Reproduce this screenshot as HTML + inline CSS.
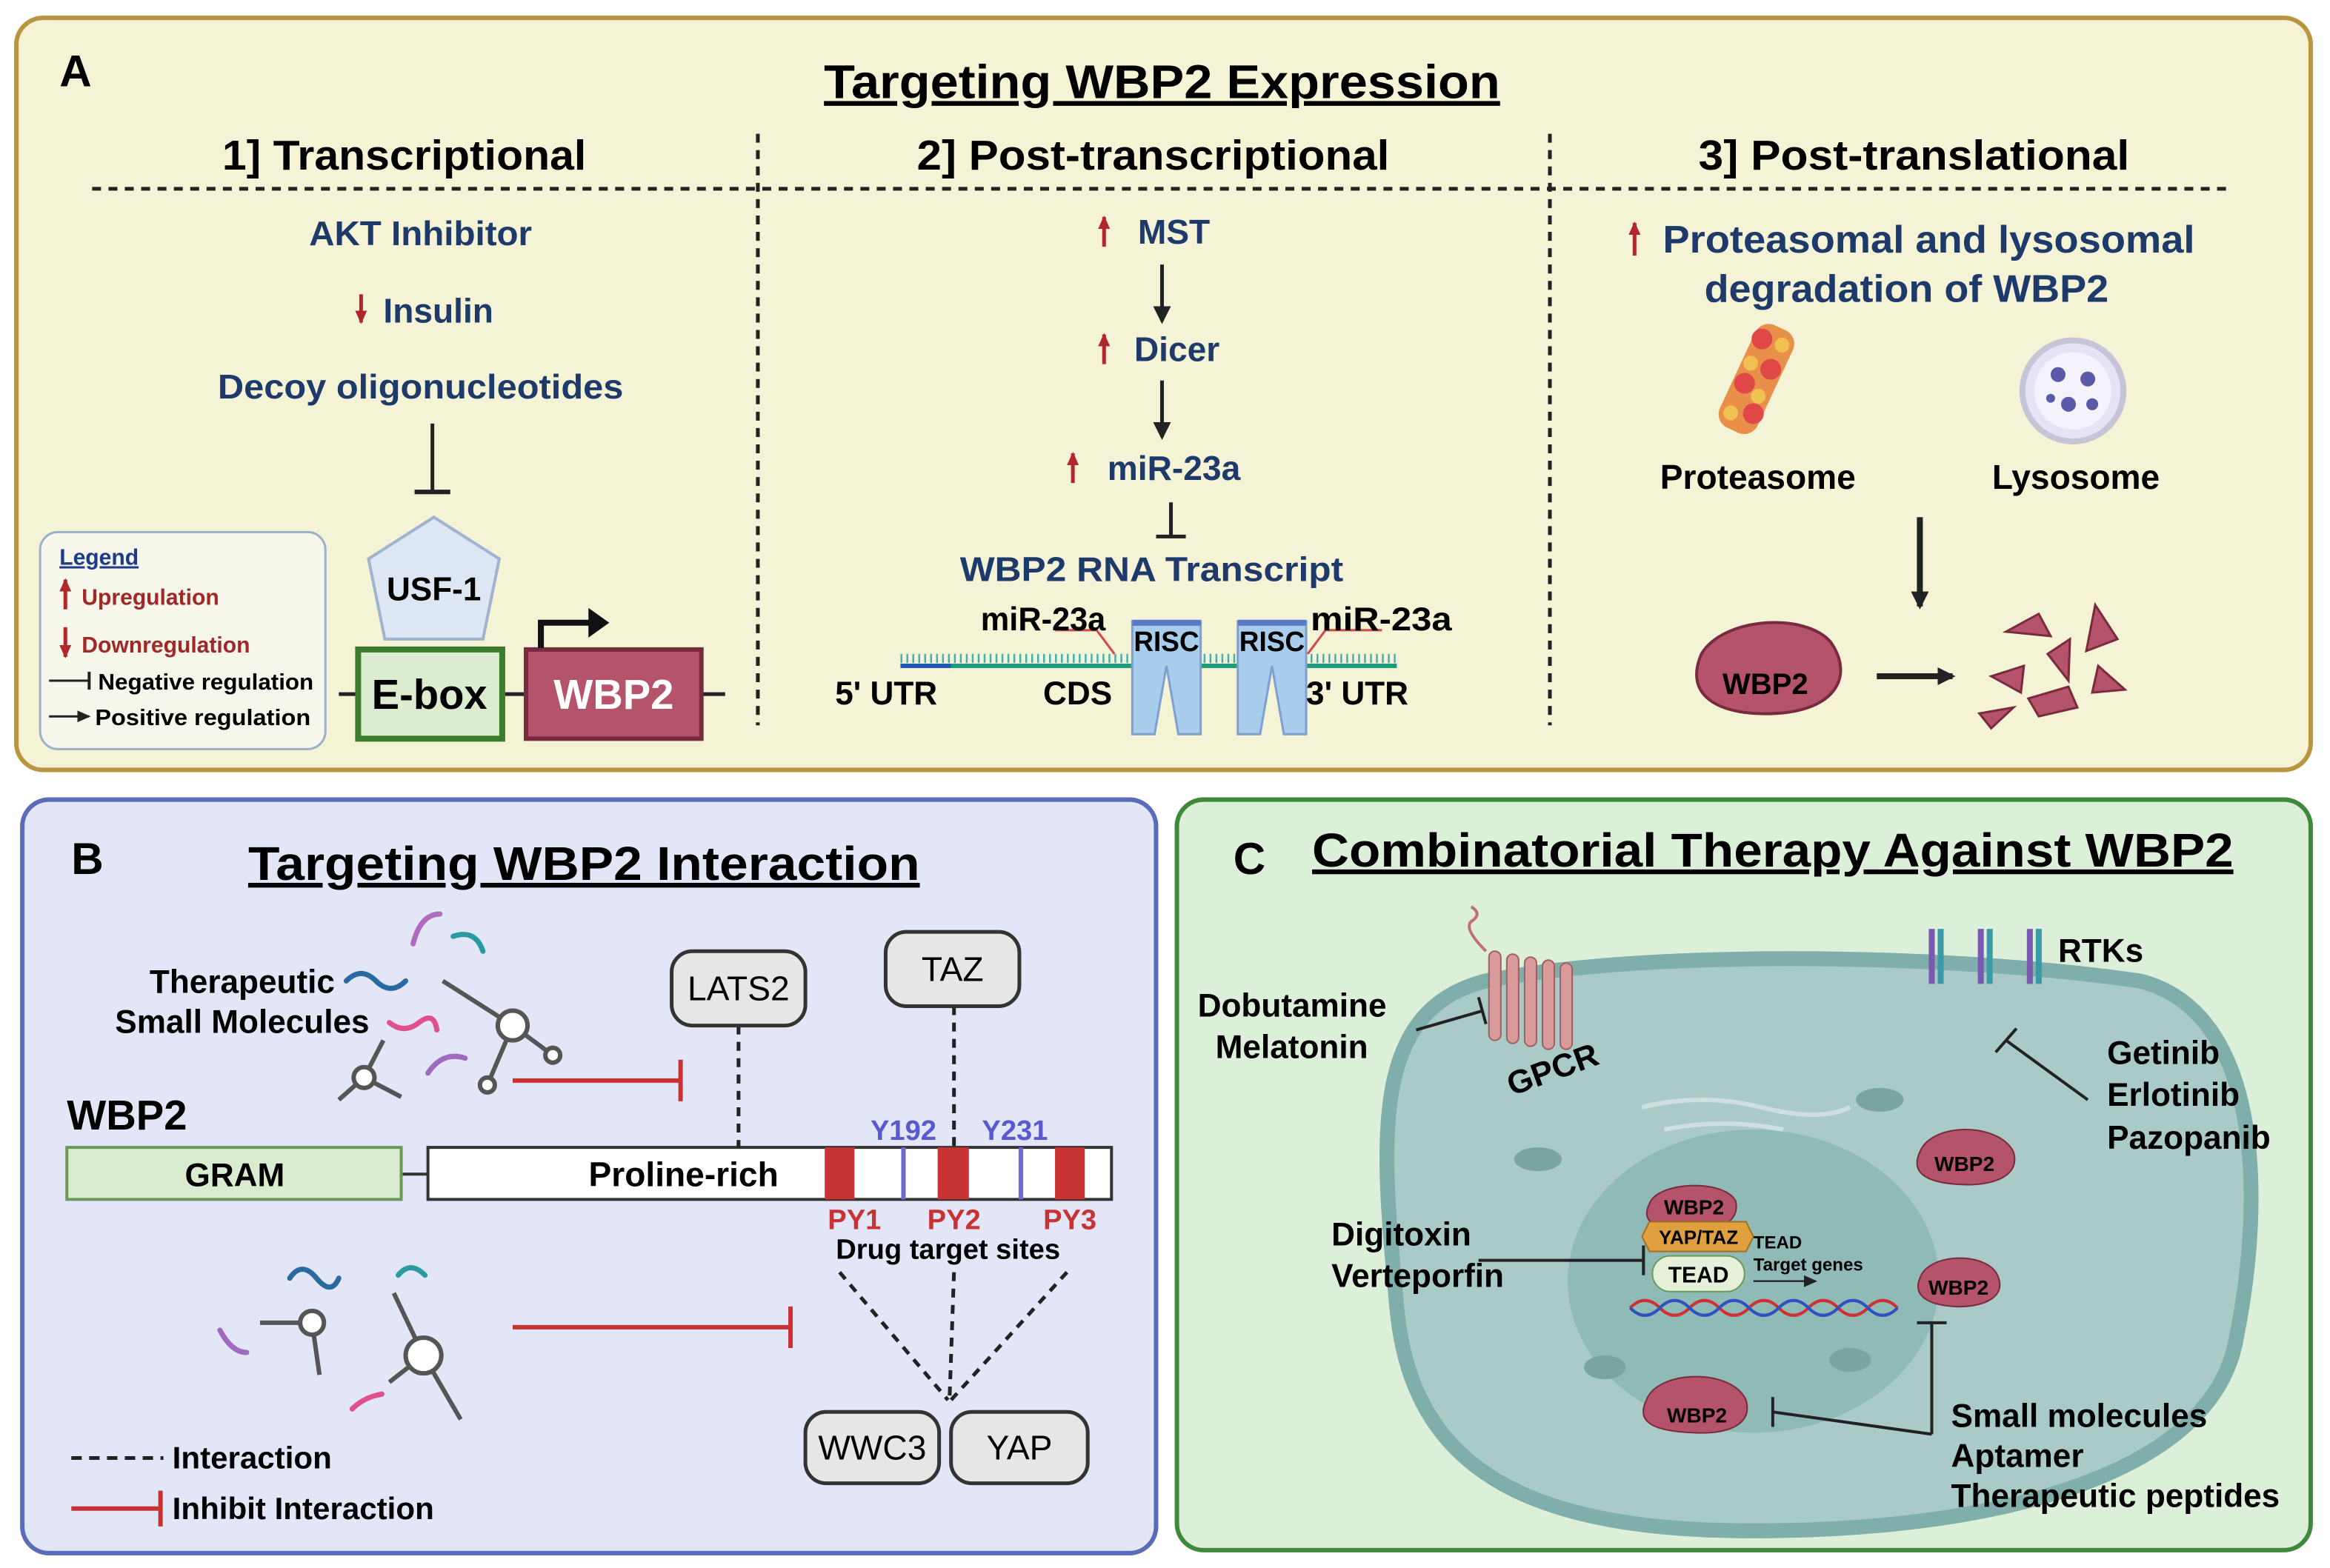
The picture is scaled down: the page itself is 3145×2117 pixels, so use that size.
<!DOCTYPE html>
<html><head><meta charset="utf-8"><style>
html,body{margin:0;padding:0;background:#fff;}
svg{display:block;}
text{font-family:"Liberation Sans",sans-serif;font-weight:bold;}
</style></head><body>
<svg width="3145" height="2117" viewBox="0 0 1568 1055" preserveAspectRatio="none" xmlns="http://www.w3.org/2000/svg">
<defs>
<marker id="ah" markerUnits="userSpaceOnUse" markerWidth="14" markerHeight="14" refX="10" refY="7" orient="auto"><path d="M0,1 L12,7 L0,13 z" fill="#222"/></marker>
<marker id="ahs" markerUnits="userSpaceOnUse" markerWidth="10" markerHeight="10" refX="8" refY="5" orient="auto"><path d="M0,1 L9,5 L0,9 z" fill="#222"/></marker>
<marker id="ahr" markerUnits="userSpaceOnUse" markerWidth="10" markerHeight="10" refX="8" refY="5" orient="auto"><path d="M0,1 L9,5 L0,9 z" fill="#b0282c"/></marker>
</defs>
<rect width="1568" height="1055" fill="#fff"/>
<!-- Panel A -->
<rect x="11" y="12" width="1544" height="506" rx="18" fill="#f5f3d6" stroke="#b8953e" stroke-width="3"/>
<text x="40" y="58" font-size="30">A</text>
<text x="782" y="66" font-size="32" text-anchor="middle" text-decoration="underline" textLength="455" lengthAdjust="spacingAndGlyphs">Targeting WBP2 Expression</text>
<text x="272" y="114" font-size="28" text-anchor="middle" textLength="245" lengthAdjust="spacingAndGlyphs">1] Transcriptional</text>
<text x="776" y="114" font-size="28" text-anchor="middle" textLength="318" lengthAdjust="spacingAndGlyphs">2] Post-transcriptional</text>
<text x="1288" y="114" font-size="28" text-anchor="middle" textLength="290" lengthAdjust="spacingAndGlyphs">3] Post-translational</text>
<line x1="62" y1="127" x2="1500" y2="127" stroke="#222" stroke-width="2.5" stroke-dasharray="6,5"/>
<line x1="510" y1="90" x2="510" y2="488" stroke="#222" stroke-width="2.5" stroke-dasharray="6,5"/>
<line x1="1043" y1="90" x2="1043" y2="488" stroke="#222" stroke-width="2.5" stroke-dasharray="6,5"/>
<!-- col1 -->
<g fill="#1e3a6a" font-size="23" text-anchor="middle">
<text x="283" y="165" textLength="150" lengthAdjust="spacingAndGlyphs">AKT Inhibitor</text>
<text x="295" y="217">Insulin</text>
<text x="283" y="268" textLength="273" lengthAdjust="spacingAndGlyphs">Decoy oligonucleotides</text>
</g>
<line x1="243" y1="198" x2="243" y2="217" stroke="#b0282c" stroke-width="2.5" marker-end="url(#ahr)"/>
<line x1="291" y1="285" x2="291" y2="331" stroke="#222" stroke-width="2.5"/>
<line x1="279" y1="331" x2="303" y2="331" stroke="#222" stroke-width="3"/>
<path d="M292,348 L336,376 L325,430 L259,430 L248,376 Z" fill="#dde6f3" stroke="#9fb3cf" stroke-width="2"/>
<text x="292" y="404" font-size="22" text-anchor="middle">USF-1</text>
<line x1="228" y1="467" x2="488" y2="467" stroke="#222" stroke-width="2.5"/>
<rect x="241" y="437" width="97" height="60" fill="#dbecd1" stroke="#3b7d2c" stroke-width="4"/>
<text x="289" y="477" font-size="28" text-anchor="middle">E-box</text>
<rect x="354" y="437" width="118" height="60" fill="#b5536b" stroke="#7a2a3e" stroke-width="3"/>
<text x="413" y="477" font-size="28" text-anchor="middle" fill="#fff">WBP2</text>
<path d="M364,436 L364,419 L398,419" fill="none" stroke="#111" stroke-width="4"/>
<path d="M396,409 L410,419 L396,429 z" fill="#111"/>
<!-- legend -->
<rect x="27" y="358" width="192" height="146" rx="12" fill="#f7f6ea" stroke="#9ab0c8" stroke-width="1.5"/>
<text x="40" y="380" font-size="15" fill="#1e3a8a" text-decoration="underline">Legend</text>
<line x1="44" y1="410" x2="44" y2="390" stroke="#b0282c" stroke-width="2.5" marker-end="url(#ahr)"/>
<text x="55" y="407" font-size="15" fill="#a02828">Upregulation</text>
<line x1="44" y1="422" x2="44" y2="442" stroke="#b0282c" stroke-width="2.5" marker-end="url(#ahr)"/>
<text x="55" y="439" font-size="15" fill="#a02828">Downregulation</text>
<line x1="33" y1="458" x2="60" y2="458" stroke="#222" stroke-width="1.5"/><line x1="60" y1="452" x2="60" y2="464" stroke="#222" stroke-width="2"/>
<text x="66" y="464" font-size="15" textLength="145" lengthAdjust="spacingAndGlyphs">Negative regulation</text>
<line x1="33" y1="482" x2="60" y2="482" stroke="#222" stroke-width="1.5" marker-end="url(#ahs)"/>
<text x="64" y="488" font-size="15" textLength="145" lengthAdjust="spacingAndGlyphs">Positive  regulation</text>
<!-- col2 -->
<g fill="#1e3a6a" font-size="23" text-anchor="middle">
<text x="790" y="164">MST</text>
<text x="792" y="243">Dicer</text>
<text x="790" y="323">miR-23a</text>
<text x="775" y="391" textLength="258" lengthAdjust="spacingAndGlyphs">WBP2 RNA Transcript</text>
</g>
<g stroke="#b0282c" stroke-width="2.5">
<line x1="743" y1="166" x2="743" y2="146" marker-end="url(#ahr)"/>
<line x1="743" y1="245" x2="743" y2="225" marker-end="url(#ahr)"/>
<line x1="722" y1="325" x2="722" y2="305" marker-end="url(#ahr)"/>
<line x1="1100" y1="172" x2="1100" y2="150" marker-end="url(#ahr)"/>
</g>
<line x1="782" y1="178" x2="782" y2="216" stroke="#222" stroke-width="2.5" marker-end="url(#ah)"/>
<line x1="782" y1="256" x2="782" y2="294" stroke="#222" stroke-width="2.5" marker-end="url(#ah)"/>
<line x1="788" y1="338" x2="788" y2="360" stroke="#222" stroke-width="2.5"/>
<line x1="778" y1="361" x2="798" y2="361" stroke="#222" stroke-width="2.5"/>
<line x1="606" y1="448" x2="940" y2="448" stroke="#1f9a7a" stroke-width="3"/>
<line x1="606" y1="448" x2="640" y2="448" stroke="#1d5ab0" stroke-width="3"/>
<line x1="606" y1="443" x2="940" y2="443" stroke="#3ab0b0" stroke-width="6" stroke-dasharray="1.2,2.8"/>
<path d="M710,424 L738,424 L750,440" fill="none" stroke="#d04a4a" stroke-width="1.5"/>
<path d="M880,440 L892,424 L930,424" fill="none" stroke="#d04a4a" stroke-width="1.5"/>
<path d="M762,418 L808,418 L808,494 L793,494 L785,448 L777,494 L762,494 Z" fill="#a8cdec" stroke="#7da0d0" stroke-width="1.5"/>
<path d="M833,418 L879,418 L879,494 L864,494 L856,448 L848,494 L833,494 Z" fill="#a8cdec" stroke="#7da0d0" stroke-width="1.5"/>
<rect x="762" y="417" width="46" height="4" fill="#5a7ac8"/><rect x="833" y="417" width="46" height="4" fill="#5a7ac8"/>
<g font-size="19" text-anchor="middle"><text x="785" y="438" textLength="44" lengthAdjust="spacingAndGlyphs">RISC</text><text x="856" y="438" textLength="44" lengthAdjust="spacingAndGlyphs">RISC</text></g>
<g font-size="22"><text x="660" y="424" textLength="84" lengthAdjust="spacingAndGlyphs">miR-23a</text><text x="882" y="424" textLength="95" lengthAdjust="spacingAndGlyphs">miR-23a</text><text x="562" y="474">5' UTR</text><text x="702" y="474">CDS</text><text x="879" y="474">3' UTR</text></g>
<!-- col3 -->
<g fill="#1e3a6a" font-size="26" text-anchor="middle"><text x="1298" y="170" textLength="358" lengthAdjust="spacingAndGlyphs">Proteasomal and lysosomal</text><text x="1283" y="203" textLength="272" lengthAdjust="spacingAndGlyphs">degradation of WBP2</text></g>
<g transform="translate(1182,255) rotate(25)">
<rect x="-14" y="-38" width="28" height="76" rx="10" fill="#e8904a"/>
<g fill="#e04848"><circle cx="-8" cy="-26" r="7"/><circle cx="6" cy="-10" r="7"/><circle cx="-6" cy="6" r="7"/><circle cx="8" cy="22" r="7"/></g>
<g fill="#f0c050"><circle cx="6" cy="-28" r="5"/><circle cx="-8" cy="-8" r="5"/><circle cx="6" cy="10" r="5"/><circle cx="-6" cy="28" r="5"/></g>
</g>
<circle cx="1395" cy="263" r="34" fill="#e6e4f4" stroke="#c8c4d8" stroke-width="4"/>
<circle cx="1395" cy="263" r="26" fill="#f4f2fa"/>
<g fill="#5a5aa8"><circle cx="1385" cy="252" r="5"/><circle cx="1405" cy="255" r="5"/><circle cx="1392" cy="272" r="5"/><circle cx="1408" cy="272" r="4"/><circle cx="1380" cy="268" r="3"/></g>
<g font-size="23" text-anchor="middle"><text x="1183" y="329">Proteasome</text><text x="1397" y="329">Lysosome</text></g>
<line x1="1292" y1="348" x2="1292" y2="408" stroke="#222" stroke-width="4" marker-end="url(#ah)"/>
<path d="M1145,440 C1160,415 1215,412 1232,432 C1248,455 1235,478 1195,480 C1160,482 1132,470 1145,440 Z" fill="#b5536b" stroke="#7a2a3e" stroke-width="2"/>
<text x="1188" y="467" font-size="20" text-anchor="middle">WBP2</text>
<line x1="1263" y1="455" x2="1314" y2="455" stroke="#222" stroke-width="4" marker-end="url(#ah)"/>
<g fill="#b5536b" stroke="#7a2a3e" stroke-width="1.5">
<path d="M1350,425 L1372,413 L1380,428 Z"/><path d="M1410,407 L1425,430 L1404,438 Z"/><path d="M1378,440 L1393,430 L1392,458 Z"/>
<path d="M1340,455 L1362,448 L1360,466 Z"/><path d="M1365,470 L1392,462 L1398,476 L1372,482 Z"/><path d="M1412,448 L1430,464 L1408,466 Z"/><path d="M1332,480 L1355,476 L1340,490 Z"/>
</g>
<!-- Panel B -->
<rect x="15" y="538" width="763" height="507" rx="18" fill="#e2e6f7" stroke="#5a6bb8" stroke-width="3"/>
<text x="48" y="588" font-size="30">B</text>
<text x="393" y="592" font-size="32" text-anchor="middle" text-decoration="underline" textLength="452" lengthAdjust="spacingAndGlyphs">Targeting WBP2 Interaction</text>
<g font-size="22" text-anchor="middle"><text x="163" y="668">Therapeutic</text><text x="163" y="695">Small Molecules</text></g>
<g fill="none" stroke-width="3.5" stroke-linecap="round">
<path d="M233,660 q10,-10 20,0 t20,0" stroke="#2b6aa0"/>
<path d="M278,635 q5,-20 18,-20" stroke="#b06ac0"/>
<path d="M305,630 q15,-5 20,10" stroke="#2b9aa0"/>
<path d="M262,688 q10,8 20,0 t12,5" stroke="#e0508a"/>
<path d="M288,722 q10,-15 25,-10" stroke="#a06ac0"/>
<path d="M195,860 q8,-12 18,0 t15,0" stroke="#2b6aa0"/>
<path d="M268,858 q8,-10 18,0" stroke="#2b9aa0"/>
<path d="M148,895 q8,15 18,15" stroke="#a06ac0"/>
<path d="M237,948 q8,-8 20,-10" stroke="#e0508a"/>
</g>
<g stroke="#555" stroke-width="3" fill="#fff">
<line x1="298" y1="660" x2="345" y2="690"/><line x1="345" y1="690" x2="372" y2="710"/><line x1="345" y1="690" x2="328" y2="730"/>
<circle cx="345" cy="690" r="10"/><circle cx="372" cy="710" r="5"/><circle cx="328" cy="730" r="5"/>
<line x1="258" y1="700" x2="245" y2="725"/><line x1="245" y1="725" x2="228" y2="740"/><line x1="245" y1="725" x2="270" y2="738"/>
<circle cx="245" cy="725" r="7"/>
<line x1="175" y1="890" x2="210" y2="890"/><line x1="210" y1="890" x2="215" y2="925"/><circle cx="210" cy="890" r="8"/>
<line x1="265" y1="870" x2="285" y2="912"/><line x1="285" y1="912" x2="310" y2="955"/><line x1="285" y1="912" x2="262" y2="930"/><circle cx="285" cy="912" r="12"/>
</g>
<line x1="345" y1="727" x2="458" y2="727" stroke="#c83232" stroke-width="3"/><line x1="458" y1="713" x2="458" y2="741" stroke="#c83232" stroke-width="3"/>
<line x1="345" y1="893" x2="532" y2="893" stroke="#c83232" stroke-width="3"/><line x1="532" y1="879" x2="532" y2="907" stroke="#c83232" stroke-width="3"/>
<text x="45" y="760" font-size="28">WBP2</text>
<line x1="270" y1="790" x2="288" y2="790" stroke="#333" stroke-width="2"/>
<rect x="45" y="772" width="225" height="35" fill="#d9ecd0" stroke="#6a9a5a" stroke-width="2"/>
<text x="158" y="798" font-size="22" text-anchor="middle">GRAM</text>
<rect x="288" y="772" width="460" height="35" fill="#fff" stroke="#333" stroke-width="2"/>
<text x="460" y="798" font-size="23" text-anchor="middle">Proline-rich</text>
<g fill="#c83232"><rect x="555" y="772" width="20" height="35"/><rect x="631" y="772" width="21" height="35"/><rect x="710" y="772" width="20" height="35"/></g>
<line x1="608" y1="772" x2="608" y2="807" stroke="#6a6ad0" stroke-width="3"/><line x1="687" y1="772" x2="687" y2="807" stroke="#6a6ad0" stroke-width="3"/>
<g font-size="19" fill="#5a5ad0" text-anchor="middle"><text x="608" y="767">Y192</text><text x="683" y="767">Y231</text></g>
<g font-size="19" fill="#c83232" text-anchor="middle"><text x="575" y="827">PY1</text><text x="642" y="827">PY2</text><text x="720" y="827">PY3</text></g>
<text x="638" y="847" font-size="19" text-anchor="middle">Drug target sites</text>
<g stroke="#222" stroke-width="2.5" stroke-dasharray="6,5" fill="none">
<line x1="497" y1="690" x2="497" y2="772"/><line x1="642" y1="677" x2="642" y2="772"/>
<line x1="565" y1="856" x2="638" y2="942"/><line x1="642" y1="856" x2="639" y2="942"/><line x1="718" y1="856" x2="640" y2="942"/>
</g>
<g fill="#e6e6e6" stroke="#333" stroke-width="2.5">
<rect x="452" y="640" width="90" height="50" rx="14"/><rect x="596" y="627" width="90" height="50" rx="14"/>
<rect x="542" y="950" width="90" height="48" rx="14"/><rect x="640" y="950" width="92" height="48" rx="14"/>
</g>
<g font-size="23" text-anchor="middle">
<text x="497" y="673" style="font-weight:normal">LATS2</text><text x="641" y="660" style="font-weight:normal">TAZ</text>
<text x="587" y="982" style="font-weight:normal">WWC3</text><text x="686" y="982" style="font-weight:normal">YAP</text></g>
<line x1="48" y1="981" x2="110" y2="981" stroke="#222" stroke-width="2.5" stroke-dasharray="7,5"/>
<text x="116" y="988" font-size="21">Interaction</text>
<line x1="48" y1="1015" x2="108" y2="1015" stroke="#c83232" stroke-width="3"/><line x1="108" y1="1003" x2="108" y2="1027" stroke="#c83232" stroke-width="3"/>
<text x="116" y="1022" font-size="21">Inhibit Interaction</text>
<!-- Panel C -->
<rect x="792" y="538" width="763" height="505" rx="18" fill="#dcefd8" stroke="#3f8a3a" stroke-width="3"/>
<text x="830" y="588" font-size="30">C</text>
<text x="1193" y="583" font-size="32" text-anchor="middle" text-decoration="underline" textLength="620" lengthAdjust="spacingAndGlyphs">Combinatorial Therapy Against WBP2</text>
<path d="M1000,660 C1100,640 1300,640 1440,660 C1520,680 1525,800 1505,900 C1490,990 1350,1030 1180,1030 C1030,1030 950,990 940,880 C930,770 920,680 1000,660 Z" fill="#a9cac6" stroke="#80aeab" stroke-width="10"/>
<ellipse cx="1180" cy="862" rx="125" ry="102" fill="#8fbab6"/>
<g fill="#d89a9a" stroke="#a06060" stroke-width="1"><rect x="1002" y="640" width="8" height="60" rx="4"/><rect x="1014" y="642" width="8" height="60" rx="4"/><rect x="1026" y="644" width="8" height="60" rx="4"/><rect x="1038" y="646" width="8" height="60" rx="4"/><rect x="1050" y="648" width="8" height="58" rx="4"/></g>
<path d="M1000,640 q-15,-15 -10,-20 q8,-5 0,-10" fill="none" stroke="#c07070" stroke-width="2"/>
<text x="1045" y="727" font-size="22" text-anchor="middle" transform="rotate(-20 1045 720)">GPCR</text>
<g stroke="#7a5ab0" stroke-width="4"><line x1="1300" y1="625" x2="1300" y2="662"/><line x1="1333" y1="625" x2="1333" y2="662"/><line x1="1366" y1="625" x2="1366" y2="662"/></g>
<g stroke="#3a9aa8" stroke-width="4"><line x1="1306" y1="625" x2="1306" y2="662"/><line x1="1339" y1="625" x2="1339" y2="662"/><line x1="1372" y1="625" x2="1372" y2="662"/></g>
<text x="1385" y="647" font-size="22">RTKs</text>
<line x1="1405" y1="740" x2="1350" y2="700" stroke="#222" stroke-width="2"/><line x1="1343" y1="708" x2="1357" y2="692" stroke="#222" stroke-width="2"/>
<g font-size="22"><text x="1418" y="716">Getinib</text><text x="1418" y="744">Erlotinib</text><text x="1418" y="773">Pazopanib</text>
<text x="806" y="684">Dobutamine</text><text x="818" y="712">Melatonin</text>
<text x="896" y="838">Digitoxin</text><text x="896" y="866">Verteporfin</text>
<text x="1313" y="960">Small molecules</text><text x="1313" y="987">Aptamer</text><text x="1313" y="1014">Therapeutic peptides</text></g>
<line x1="953" y1="693" x2="998" y2="680" stroke="#222" stroke-width="2"/><line x1="995" y1="671" x2="1000" y2="689" stroke="#222" stroke-width="2"/>
<line x1="995" y1="848" x2="1106" y2="848" stroke="#222" stroke-width="2"/><line x1="1106" y1="838" x2="1106" y2="858" stroke="#222" stroke-width="2"/>
<path d="M1300,965 L1300,890 M1290,890 L1310,890 M1300,965 L1193,950 M1193,940 L1193,960" fill="none" stroke="#222" stroke-width="2"/>
<path d="M1110,810 C1115,795 1160,793 1168,808 C1172,825 1150,830 1130,828 C1110,826 1105,820 1110,810 Z" fill="#b5536b" stroke="#7a2a3e"/>
<text x="1140" y="817" font-size="14" text-anchor="middle">WBP2</text>
<path d="M1110,822 L1175,822 L1180,832 L1175,842 L1110,842 L1105,832 Z" fill="#e0a040" stroke="#a07020"/>
<text x="1143" y="837" font-size="13" text-anchor="middle">YAP/TAZ</text>
<rect x="1112" y="845" width="62" height="24" rx="12" fill="#e6f0d8" stroke="#6a9a5a"/>
<text x="1143" y="863" font-size="15" text-anchor="middle">TEAD</text>
<text x="1180" y="840" font-size="12">TEAD</text><text x="1180" y="855" font-size="12">Target genes</text>
<line x1="1180" y1="862" x2="1222" y2="862" stroke="#222" stroke-width="1.2" marker-end="url(#ahs)"/>
<path d="M1097,880 q10,-10 20,0 t20,0 t20,0 t20,0 t20,0 t20,0 t20,0 t20,0 t20,0" fill="none" stroke="#d03030" stroke-width="2"/>
<path d="M1097,880 q10,10 20,0 t20,0 t20,0 t20,0 t20,0 t20,0 t20,0 t20,0 t20,0" fill="none" stroke="#3050c0" stroke-width="2"/>
<g fill="#b5536b" stroke="#7a2a3e">
<path d="M1292,775 C1300,755 1345,755 1355,775 C1360,792 1340,798 1320,797 C1298,796 1285,790 1292,775 Z"/>
<path d="M1292,860 C1298,842 1340,842 1345,860 C1350,875 1330,880 1315,879 C1298,878 1287,872 1292,860 Z"/>
<path d="M1108,942 C1115,922 1165,920 1175,942 C1180,960 1160,965 1140,964 C1115,963 1100,958 1108,942 Z"/>
</g>
<g font-size="14" text-anchor="middle"><text x="1322" y="788">WBP2</text><text x="1318" y="871">WBP2</text><text x="1142" y="957">WBP2</text></g>
<g fill="none" stroke="#d8e6e4" stroke-width="3" opacity="0.8"><path d="M1105,745 q40,-10 80,0 t60,0"/><path d="M1120,760 q40,-8 80,0"/></g>
<g fill="#7aa49f"><ellipse cx="1035" cy="780" rx="16" ry="8"/><ellipse cx="1265" cy="740" rx="16" ry="8"/><ellipse cx="1080" cy="920" rx="14" ry="8"/><ellipse cx="1245" cy="915" rx="14" ry="8"/></g>
</svg>
</body></html>
